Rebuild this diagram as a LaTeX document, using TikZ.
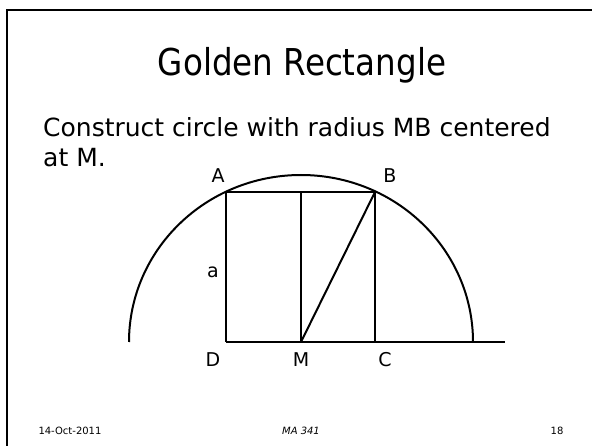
\documentclass[tikz,border=0pt]{standalone}
\usepackage{fontspec}
\setmainfont{DejaVu Sans}
\newfontfamily\titlefont{DejaVu Sans}[FakeStretch=0.88]
\tikzset{
  lbl/.style={font=\fontsize{19}{22}\selectfont},
  body/.style={anchor=base west,inner sep=0pt,font=\fontsize{25}{30}\selectfont},
  foot/.style={anchor=base,inner sep=0pt,font=\fontsize{10}{12}\selectfont},
  fig/.style={line width=2pt}
}
\begin{document}
\begin{tikzpicture}[x=1pt,y=-1pt]
  \useasboundingbox (0,0) rectangle (592,446);
  % slide frame
  \draw[line width=2.2pt] (7,446)--(7,10)--(592,10);
  \node[anchor=base,inner sep=0pt,font=\titlefont\fontsize{37}{44}\selectfont] (title) at (302,76) {Golden Rectangle};
  \node[body] (line1) at (43,137) {Construct circle with radius MB centered};
  \node[body] (line2) at (43,167) {at M.};
  % construction
  \coordinate (A) at (226,192);
  \coordinate (B) at (375,192);
  \coordinate (C) at (375,342);
  \coordinate (D) at (226,342);
  \coordinate (M) at (301,342);
  \coordinate (E) at (505,342);
  \coordinate (Mt) at (301,192);
  \draw[fig] (D)--(E);
  \draw[fig] (D)--(A)--(B)--(C);
  \draw[fig] (M)--(Mt);
  \draw[fig] (M)--(B);
  \draw[fig] (M) ++(172,0) arc[start angle=0,end angle=-180,x radius=172,y radius=167];
  \node[lbl] (la) at (218,176) {A};
  \node[lbl] (lb) at (390,176) {B};
  \node[lbl] (lside) at (213,272) {a};
  \node[lbl] (ld) at (213,360) {D};
  \node[lbl] (lm) at (301,360) {M};
  \node[lbl] (lc) at (385,360) {C};
  % footer
  \node[foot] (date) at (70,434) {14-Oct-2011};
  \node[foot] (course) at (301,434) {\itshape MA 341};
  \node[foot] (page) at (557,434) {18};
\end{tikzpicture}
\end{document}
